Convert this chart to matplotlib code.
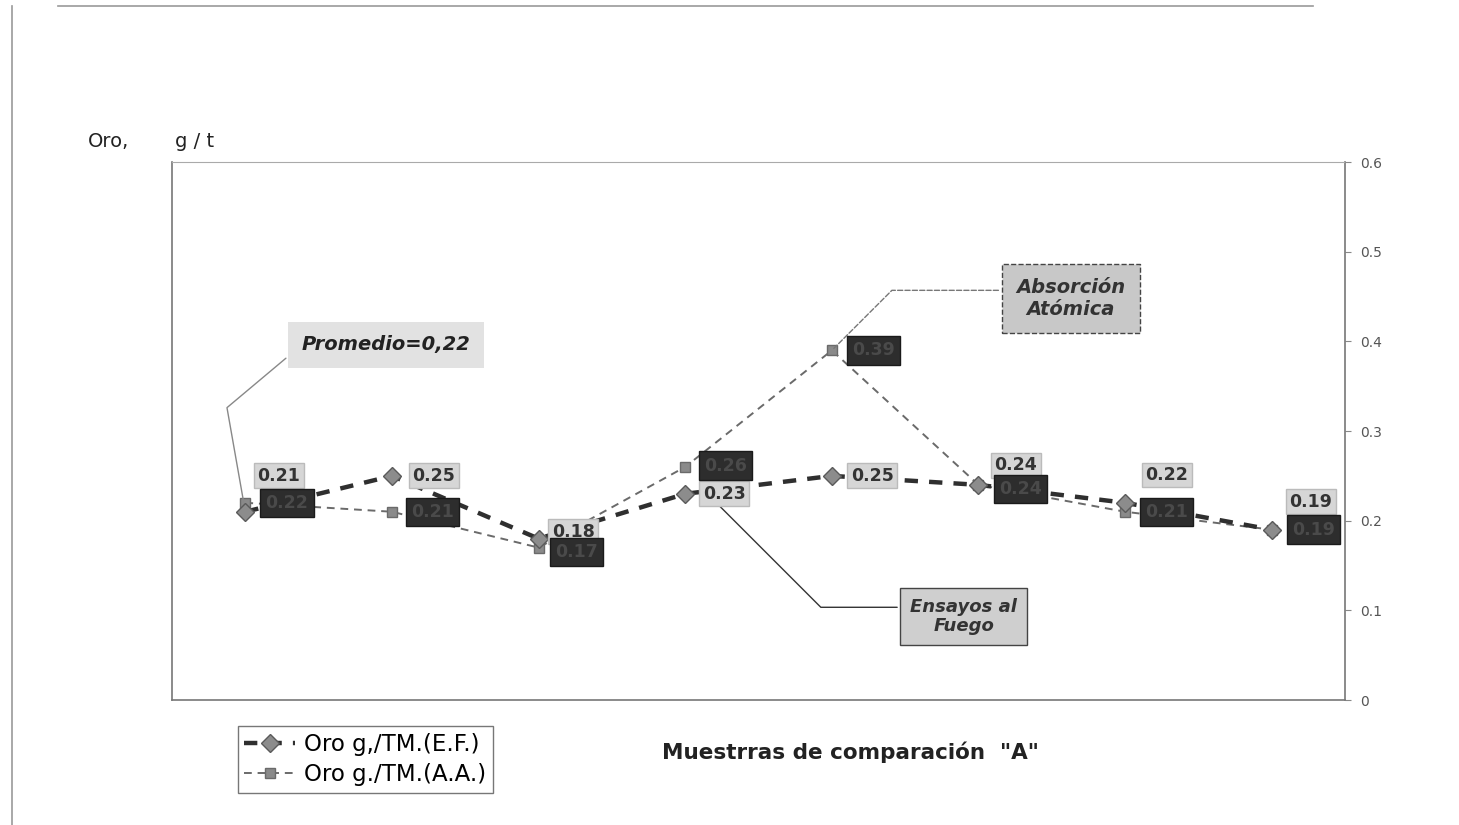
import matplotlib.pyplot as plt
from matplotlib.lines import Line2D

muestras = [1, 2, 3, 4, 5, 6, 7, 8]
oro_ef = [0.21, 0.25, 0.18, 0.23, 0.25, 0.24, 0.22, 0.19]
oro_aa = [0.22, 0.21, 0.17, 0.26, 0.39, 0.24, 0.21, 0.19]
yticks = [0, 0.1, 0.2, 0.3, 0.4, 0.5, 0.6]
ytick_labels = ['0', '0.1', '0.2', '0.3', '0.4', '0.5', '0.6']

# label offsets (points) for each data label
ef_offsets = [(24, 26), (30, 0), (25, 5), (28, 0), (29, 0), (27, 14), (30, 20), (28, 20)]
aa_offsets = [(30, 0), (29, 0), (27, -3), (29, 1), (30, 0), (30, -3), (30, 0), (30, 0)]

fig = plt.figure(figsize=(14.59, 8.25), dpi=100)
ax = fig.add_axes([0.1179, 0.1515, 0.804, 0.652])

ax.plot(muestras, oro_aa, color='#6a6a6a', lw=1.4, ls=(0, (4, 3)),
        marker='s', ms=7, mfc='#8a8a8a', mec='#6a6a6a',
        label='Oro g./TM.(A.A.)', zorder=3)
ax.plot(muestras, oro_ef, color='#2f2f2f', lw=3.2, ls=(0, (3, 2.5)),
        marker='D', ms=9, mfc='#8c8c8c', mec='#5a5a5a',
        label='Oro g,/TM.(E.F.)', zorder=4)

for x, v, (dx, dy) in zip(muestras, oro_ef, ef_offsets):
    ax.annotate(f'{v:.2f}', (x, v), xytext=(dx, dy), textcoords='offset points',
                ha='center', va='center', fontsize=12.5, fontweight='bold',
                color='#333333', zorder=5,
                bbox=dict(boxstyle='square,pad=0.2', fc='#d6d6d6', ec='#bbbbbb'))

for x, v, (dx, dy) in zip(muestras, oro_aa, aa_offsets):
    ax.annotate(f'{v:.2f}', (x, v), xytext=(dx, dy), textcoords='offset points',
                ha='center', va='center', fontsize=12.5, fontweight='bold',
                color='#4a4a4a', zorder=6,
                bbox=dict(boxstyle='square,pad=0.3', fc='#2d2d2d', ec='#1a1a1a'))

ax.set_xlim(0.5, 8.5)
ax.set_ylim(0, 0.6)
ax.set_xticks([])
ax.yaxis.tick_right()
ax.set_yticks(yticks)
ax.set_yticklabels(ytick_labels, fontsize=10, color='#555555')
ax.tick_params(axis='y', length=4, color='#888888', pad=7)
for side in ['left', 'bottom', 'right']:
    ax.spines[side].set_color('#777777')
    ax.spines[side].set_linewidth(1.2)
ax.spines['top'].set_color('#aaaaaa')
ax.spines['top'].set_linestyle((0, (2, 1)))

# Promedio annotation
ax.annotate('Promedio=0,22', xy=(1, oro_ef[0]), xytext=(1.96, 0.396),
            fontsize=14, fontweight='bold', fontstyle='italic', color='#222222',
            ha='center', va='center',
            bbox=dict(boxstyle='square,pad=0.7', fc='#e2e2e2', ec='none'),
            arrowprops=dict(arrowstyle='-', color='#888888', lw=1, relpos=(0, 0.5),
                            connectionstyle='angle,angleA=40,angleB=100,rad=0'))

# Absorcion Atomica annotation
ax.annotate('Absorción\nAtómica', xy=(5, oro_aa[4]), xytext=(6.63, 0.448),
            fontsize=14, fontweight='bold', fontstyle='italic', color='#333333',
            ha='center', va='center', linespacing=1.15,
            bbox=dict(boxstyle='square,pad=0.75', fc='#c8c8c8', ec='#444444', ls='--'),
            arrowprops=dict(arrowstyle='-', color='#777777', lw=1, ls='--', relpos=(0, 0.7),
                            connectionstyle='angle,angleA=0,angleB=45,rad=0'))

# Ensayos al Fuego annotation
ax.annotate('Ensayos al\nFuego', xy=(4.2, 0.222), xytext=(5.9, 0.093),
            fontsize=13, fontweight='bold', fontstyle='italic', color='#333333',
            ha='center', va='center', linespacing=1.1,
            bbox=dict(boxstyle='square,pad=0.55', fc='#cfcfcf', ec='#444444'),
            arrowprops=dict(arrowstyle='-', color='#333333', lw=1, relpos=(0, 0.75),
                            connectionstyle='angle,angleA=0,angleB=-45,rad=0'))

handles, labels = ax.get_legend_handles_labels()
fig.legend(handles[::-1], labels[::-1], loc='upper left',
           bbox_to_anchor=(0.155, 0.134), fontsize=16.5, frameon=True,
           fancybox=False, edgecolor='#555555', handlelength=2.2,
           handletextpad=0.4, borderpad=0.3, labelspacing=0.3)

fig.text(0.583, 0.088, 'Muestrras de comparación  "A"', ha='center', va='center',
         fontsize=15.5, fontweight='bold', color='#222222')
fig.text(0.06, 0.829, 'Oro,', ha='left', va='center', fontsize=14, color='#222222')
fig.text(0.12, 0.829, 'g / t', ha='left', va='center', fontsize=14, color='#222222')

# outer frame lines of the scanned page
fig.add_artist(Line2D([0.04, 0.9], [0.993, 0.993], transform=fig.transFigure,
                      color='#999999', lw=1.2))
fig.add_artist(Line2D([0.008, 0.008], [0.0, 0.993], transform=fig.transFigure,
                      color='#999999', lw=1.2))

fig.savefig('out.png', dpi=100)
